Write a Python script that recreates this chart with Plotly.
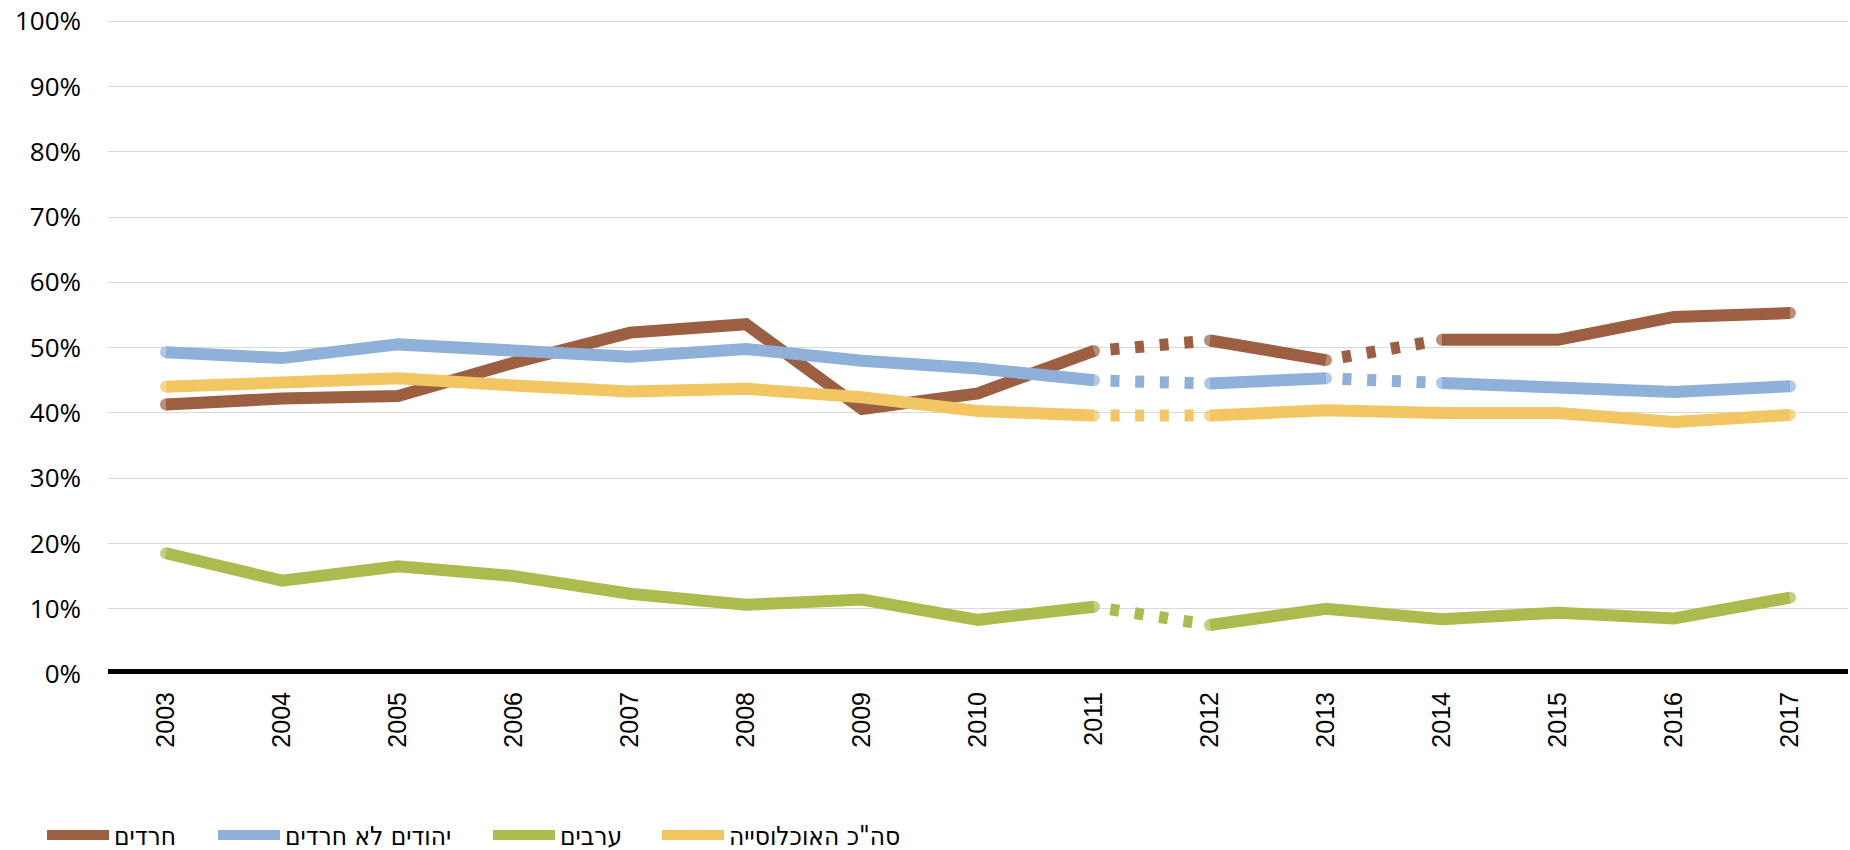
import plotly.graph_objects as go

# ---------------- data ----------------
years = ["2003", "2004", "2005", "2006", "2007", "2008", "2009", "2010",
         "2011", "2012", "2013", "2014", "2015", "2016", "2017"]

haredim = [41.3, 42.2, 42.6, 47.7, 52.3, 53.6, 40.6, 43.0, 49.5, 51.1,
           48.1, 51.2, 51.2, 54.7, 55.3]
jews_non_haredi = [49.3, 48.4, 50.5, 49.5, 48.6, 49.8, 48.0, 46.8, 45.0, 44.5,
                   45.3, 44.6, 44.0, 43.2, 44.1]
arabs = [18.5, 14.3, 16.5, 15.0, 12.3, 10.6, 11.4, 8.3, 10.3, 7.5,
         10.0, 8.4, 9.4, 8.5, 11.7]
total_pop = [44.0, 44.6, 45.3, 44.2, 43.3, 43.7, 42.4, 40.3, 39.6, 39.6,
             40.4, 40.0, 40.0, 38.6, 39.7]

series_names = ["חרדים", "יהודים לא חרדים", "ערבים", 'סה"כ האוכלוסייה']
series_values = [haredim, jews_non_haredi, arabs, total_pop]
series_colors = ["#9C5F41", "#8FB0D8", "#ADBB4E", "#F2C662"]
# index i means the segment from years[i] to years[i+1] is drawn dotted
dotted_segments = [[8, 10], [8, 10], [8], [8]]
legend_ids = ["legend", "legend2", "legend3", "legend4"]
legend_entry_widths = [110, 240, 110, 250]

LW = 12
DOT_DASH = "0px,16.5px,9px,15.7px,9px,15.7px,9px,15.7px,9px,300px"

fig = go.Figure()

for name, vals, color, dots, lg in zip(series_names, series_values, series_colors,
                                       dotted_segments, legend_ids):
    frac = [v / 100 for v in vals]
    breaks = sorted(dots)
    start = 0
    runs = []
    for b in breaks:
        runs.append((start, b))
        start = b + 1
    runs.append((start, len(years) - 1))
    for a, b in runs:
        xs = years[a:b + 1]
        sizes = [0] * len(xs)
        sizes[0] = LW
        sizes[-1] = LW
        fig.add_trace(go.Scatter(
            x=xs, y=frac[a:b + 1], mode="lines+markers",
            line=dict(color=color, width=LW),
            marker=dict(color=color, size=sizes, line=dict(width=0)),
            showlegend=False, hoverinfo="skip"))
    for i in dots:
        fig.add_trace(go.Scatter(
            x=years[i:i + 2], y=frac[i:i + 2], mode="lines",
            line=dict(color=color, width=LW, dash=DOT_DASH),
            showlegend=False, hoverinfo="skip"))
    fig.add_trace(go.Scatter(
        x=[None], y=[None], mode="lines", name=name,
        line=dict(color=color, width=10),
        legend=lg, showlegend=True))

# black baseline at 0%
fig.add_shape(type="line", xref="paper", yref="y", x0=0, x1=1, y0=0, y1=0,
              line=dict(color="black", width=10), layer="above")

PLOT_L, PLOT_W, PLOT_H = 108, 1740, 654
legend_px = [42, 213, 488, 657]
legend_font = dict(family="DejaVu Sans Condensed, Liberation Sans, Arial, sans-serif",
                   size=26, color="black")
legend_layouts = {}
for lg, px, ew in zip(legend_ids, legend_px, legend_entry_widths):
    legend_layouts[lg] = dict(
        x=(px - PLOT_L) / PLOT_W, xanchor="left",
        y=-(835 - 674) / PLOT_H, yanchor="middle",
        orientation="h", font=legend_font,
        bgcolor="rgba(0,0,0,0)", borderwidth=0,
        itemwidth=62, tracegroupgap=0,
        entrywidth=ew, entrywidthmode="pixels")

fig.update_layout(
    width=1850, height=850,
    margin=dict(l=108, r=2, t=20, b=176, autoexpand=False),
    paper_bgcolor="white", plot_bgcolor="white",
    showlegend=True,
    **legend_layouts,
)

fig.update_xaxes(
    type="category", categoryorder="array", categoryarray=years,
    range=[-0.5, len(years) - 0.5],
    showgrid=False, zeroline=False, showline=False, ticks="",
    tickangle=-90, ticklabelstandoff=12,
    tickfont=dict(family="Liberation Sans, Arial, sans-serif", size=25, color="black"),
)
fig.update_yaxes(
    range=[0, 1.002], dtick=0.1, tick0=0, tickformat=".0%",
    showgrid=True, gridcolor="#D9D9D9", gridwidth=1.3,
    zeroline=False, showline=False, ticks="",
    ticklabelstandoff=26,
    tickfont=dict(family="Open Sans, sans-serif", size=26, color="black"),
)

fig.write_html("out.html",
               config={"displayModeBar": False},
               post_script="document.body.style.margin='0';document.body.style.overflow='hidden';")
